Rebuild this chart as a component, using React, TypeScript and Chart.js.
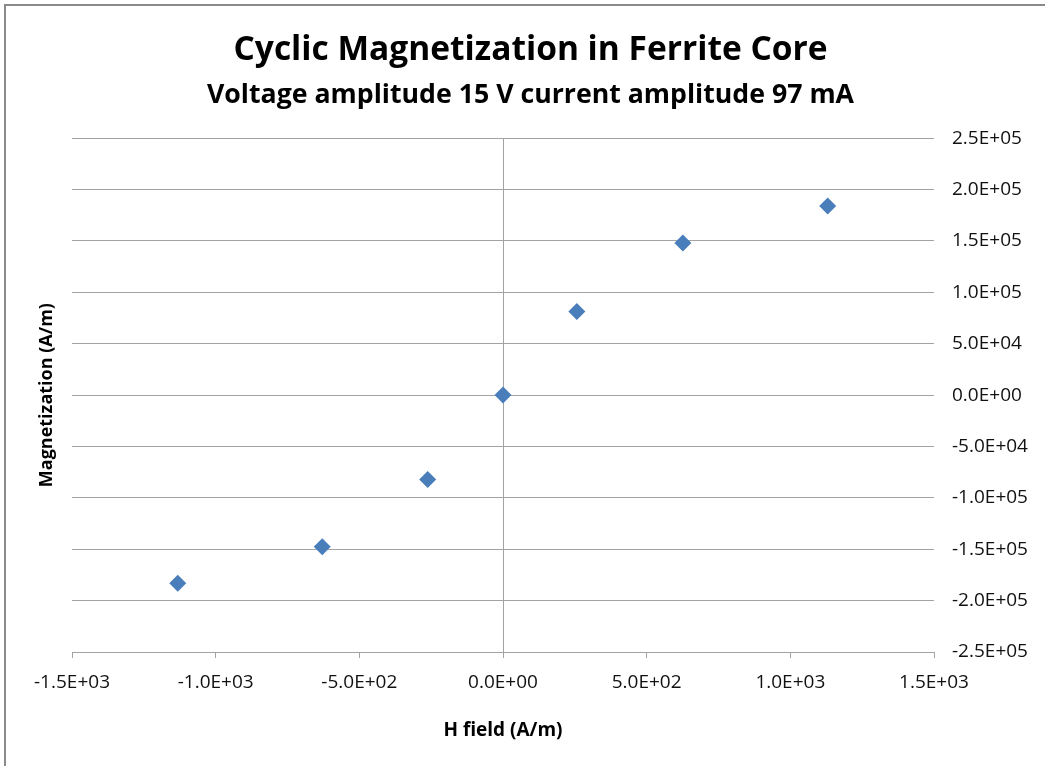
import React, { useEffect, useRef } from "react";
import { Chart, registerables } from "chart.js";

Chart.register(...registerables);

// ---- Data ----
const hField: number[] = [-1132, -629, -262, 0, 257, 626, 1130];
const magnetization: number[] = [-183000, -147500, -82000, 0, 81500, 148000, 184000];

const xTickValues: number[] = [-1500, -1000, -500, 0, 500, 1000, 1500];
const xTickLabels: string[] = ["-1.5E+03", "-1.0E+03", "-5.0E+02", "0.0E+00", "5.0E+02", "1.0E+03", "1.5E+03"];

const yTickValues: number[] = [250000, 200000, 150000, 100000, 50000, 0, -50000, -100000, -150000, -200000, -250000];
const yTickLabels: string[] = ["2.5E+05", "2.0E+05", "1.5E+05", "1.0E+05", "5.0E+04", "0.0E+00", "-5.0E+04", "-1.0E+05", "-1.5E+05", "-2.0E+05", "-2.5E+05"];

const TITLE = "Cyclic Magnetization in Ferrite Core";
const SUBTITLE = "Voltage amplitude 15 V current amplitude 97 mA";
const X_TITLE = "H field (A/m)";
const Y_TITLE = "Magnetization (A/m)";

const FONT = "'Open Sans', Lato, sans-serif";
const GRID = "#a3a3a3";
const MARKER = "#4a7ebb";

export default function App() {
  const canvasRef = useRef<HTMLCanvasElement | null>(null);

  useEffect(() => {
    const canvas = canvasRef.current;
    if (!canvas) return;
    const points = hField.map((x, i) => ({ x, y: magnetization[i] }));

    const chart = new Chart(canvas, {
      type: "scatter",
      data: {
        datasets: [
          {
            label: "M vs H",
            data: points,
            pointStyle: "rectRot",
            pointRadius: 8.5,
            pointBackgroundColor: MARKER,
            pointBorderColor: MARKER,
            pointBorderWidth: 0,
            showLine: false,
          },
        ],
      },
      options: {
        animation: false,
        responsive: false,
        devicePixelRatio: 1,
        layout: { padding: { left: 16, right: 0, top: 0, bottom: 0 } },
        plugins: {
          legend: { display: false },
          tooltip: { enabled: false },
          title: {
            display: true,
            text: TITLE,
            color: "#000",
            font: { family: FONT, size: 33.5, weight: "bold" },
            padding: { top: 30, bottom: 4 },
          },
          subtitle: {
            display: true,
            text: SUBTITLE,
            color: "#000",
            font: { family: FONT, size: 26.7, weight: "bold" },
            padding: { top: 5, bottom: 27 },
          },
        },
        scales: {
          x: {
            type: "linear",
            position: "bottom",
            min: -1500,
            max: 1500,
            afterBuildTicks: (axis: any) => {
              axis.ticks = xTickValues.map((v) => ({ value: v }));
            },
            afterFit: (axis: any) => {
              axis.height = 114;
            },
            grid: {
              color: (ctx: any) => (ctx.tick && ctx.tick.value === 0 ? GRID : "rgba(0,0,0,0)"),
              tickColor: GRID,
              tickLength: 6,
              drawTicks: true,
              lineWidth: 1,
            },
            border: { display: true, color: GRID, width: 1 },
            ticks: {
              color: "#111",
              font: { family: FONT, size: 19 },
              padding: 13,
              maxRotation: 0,
              autoSkip: false,
              callback: (v: any) => {
                const i = xTickValues.indexOf(Number(v));
                return i >= 0 ? xTickLabels[i] : "";
              },
            },
            title: {
              display: true,
              text: X_TITLE,
              color: "#000",
              font: { family: FONT, size: 19, weight: "bold" },
              padding: { top: 0, bottom: 24 },
            },
          },
          y: {
            type: "linear",
            position: "right",
            min: -250000,
            max: 250000,
            afterBuildTicks: (axis: any) => {
              axis.ticks = yTickValues.map((v) => ({ value: v }));
            },
            afterFit: (axis: any) => {
              axis.width = 111;
            },
            grid: { color: GRID, lineWidth: 1, drawTicks: false },
            border: { display: false },
            ticks: {
              color: "#111",
              font: { family: FONT, size: 19 },
              padding: 18,
              autoSkip: false,
              callback: (v: any) => {
                const i = yTickValues.indexOf(Number(v));
                return i >= 0 ? yTickLabels[i] : "";
              },
            },
          },
          yTitle: {
            type: "linear",
            position: "left",
            afterFit: (axis: any) => {
              axis.width = 56;
            },
            grid: { display: false },
            border: { display: false },
            ticks: { display: false },
            title: {
              display: true,
              text: Y_TITLE,
              color: "#000",
              font: { family: FONT, size: 18, weight: "bold" },
              padding: { top: 20, bottom: 0 },
            },
          },
        },
      } as any,
    });

    return () => {
      chart.destroy();
    };
  }, []);

  return (
    <div style={{ position: "absolute", left: 0, top: 0, width: 1045, height: 766, background: "#fff", overflow: "hidden" }}>
      <canvas ref={canvasRef} width={1045} height={766} style={{ display: "block", width: 1045, height: 766 }} />
      <div
        style={{
          position: "absolute",
          left: 4,
          top: 4,
          width: 1041,
          height: 762,
          borderLeft: "2px solid #8a8a8a",
          borderTop: "2px solid #8a8a8a",
          boxSizing: "border-box",
          pointerEvents: "none",
        }}
      />
    </div>
  );
}
